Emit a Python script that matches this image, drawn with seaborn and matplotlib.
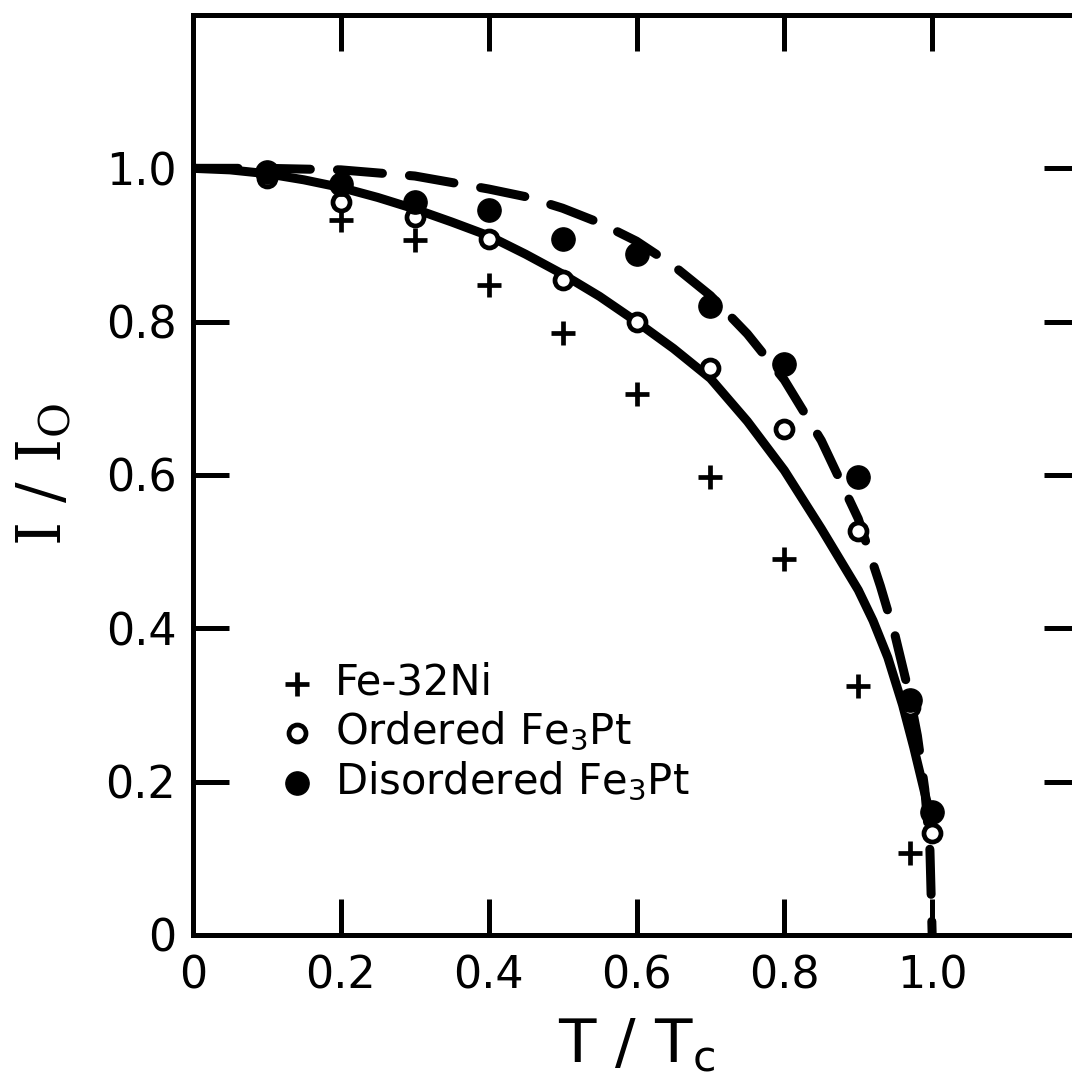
import matplotlib
matplotlib.use("Agg")
import matplotlib.pyplot as plt
import seaborn as sns

# ---- data ----
t_points = [0.1, 0.2, 0.3, 0.4, 0.5, 0.6, 0.7, 0.8, 0.9, 0.97, 1.0]
ordered_fe3pt = [0.987, 0.956, 0.936, 0.908, 0.854, 0.800, 0.740, 0.660, 0.527, 0.297, 0.133]
disordered_fe3pt = [0.995, 0.980, 0.956, 0.945, 0.908, 0.888, 0.820, 0.745, 0.597, 0.307, 0.161]

t_feni = [0.2, 0.3, 0.4, 0.5, 0.6, 0.7, 0.8, 0.9, 0.97]
fe32ni = [0.932, 0.906, 0.848, 0.785, 0.706, 0.597, 0.491, 0.325, 0.107]

# solid curve (through ordered Fe3Pt)
t_solid = [0.0, 0.05, 0.1, 0.15, 0.2, 0.25, 0.3, 0.35, 0.4, 0.45, 0.5, 0.55,
           0.6, 0.65, 0.7, 0.75, 0.8, 0.85, 0.875, 0.9, 0.92, 0.94, 0.96, 0.975,
           0.99, 0.998]
i_solid = [1.0, 0.998, 0.993, 0.985, 0.975, 0.962, 0.947, 0.930, 0.912, 0.888, 0.862, 0.833,
           0.800, 0.765, 0.726, 0.670, 0.606, 0.530, 0.490, 0.450, 0.410, 0.362, 0.300, 0.245,
           0.185, 0.155]

# dashed curve (through disordered Fe3Pt)
t_dash = [0.0, 0.1, 0.2, 0.3, 0.4, 0.45, 0.5, 0.55, 0.6, 0.65, 0.7, 0.75, 0.8,
          0.85, 0.9, 0.93, 0.95, 0.97, 0.98, 0.99, 0.997, 1.0]
i_dash = [1.0, 1.0, 0.998, 0.99, 0.973, 0.963, 0.948, 0.929, 0.905, 0.873, 0.834, 0.784, 0.724,
          0.645, 0.543, 0.455, 0.39, 0.31, 0.26, 0.19, 0.11, 0.0]

xticks = [0, 0.2, 0.4, 0.6, 0.8, 1.0]
xticklabels = ["0", "0.2", "0.4", "0.6", "0.8", "1.0"]
yticks = [0, 0.2, 0.4, 0.6, 0.8, 1.0]
yticklabels = ["0", "0.2", "0.4", "0.6", "0.8", "1.0"]

sns.set_theme(style="ticks")
plt.rcParams["font.family"] = ["DejaVu Sans"]
plt.rcParams["mathtext.fontset"] = "dejavusans"
for k in ["text.color", "axes.labelcolor", "xtick.color", "ytick.color",
          "xtick.labelcolor", "ytick.labelcolor", "axes.edgecolor"]:
    plt.rcParams[k] = "black"

fig = plt.figure(figsize=(10.72, 10.79), dpi=100)
ax = fig.add_axes([0.18004, 0.13346, 0.82743, 0.85264])

# curves
sns.lineplot(x=t_solid, y=i_solid, ax=ax, color="black", lw=6.5, sort=False,
             estimator=None, legend=False, solid_capstyle="round",
             solid_joinstyle="round", zorder=2)
sns.lineplot(x=t_dash, y=i_dash, ax=ax, color="black", lw=6.5, sort=False,
             estimator=None, legend=False, linestyle=(0, (5, 3)),
             dash_capstyle="round", dash_joinstyle="round", zorder=2)

# points
sns.scatterplot(x=t_feni, y=fe32ni, ax=ax, marker="+", color="black", s=280,
                linewidth=3.4, label="Fe-32Ni", zorder=4)
sns.scatterplot(x=t_points, y=ordered_fe3pt, ax=ax, marker="o", facecolor="white",
                edgecolor="black", s=150, linewidth=3.4, label="Ordered Fe$_3$Pt", zorder=4)
sns.scatterplot(x=t_points, y=disordered_fe3pt, ax=ax, marker="o", color="black",
                edgecolor="black", s=280, linewidth=1, label="Disordered Fe$_3$Pt", zorder=5)

ax.set_xlim(0, 1.2)
ax.set_ylim(0, 1.2)
ax.set_xticks(xticks)
ax.set_xticklabels(xticklabels)
ax.set_yticks(yticks)
ax.set_yticklabels(yticklabels)

for sp in ax.spines.values():
    sp.set_visible(True)
    sp.set_linewidth(3.6)
    sp.set_color("black")

ax.tick_params(axis="both", direction="in", length=26, width=3.6, top=True, right=True,
               labelsize=32, color="black", labelcolor="black")
ax.tick_params(axis="x", pad=14)
ax.tick_params(axis="y", pad=12)

ax.set_xlabel("T / T$_\\mathregular{c}$", fontsize=44, labelpad=14, color="black")
ax.set_ylabel("I / I$_\\mathregular{O}$", fontsize=44, labelpad=22, color="black",
              family=["DejaVu Serif"])

leg = ax.legend(loc="upper left", bbox_to_anchor=(0.08, 0.315), frameon=False,
                fontsize=30, handlelength=0.8, handletextpad=0.5, labelspacing=0.15,
                borderaxespad=0)
for txt in leg.get_texts():
    txt.set_color("black")

fig.savefig("out.png", dpi=100)
